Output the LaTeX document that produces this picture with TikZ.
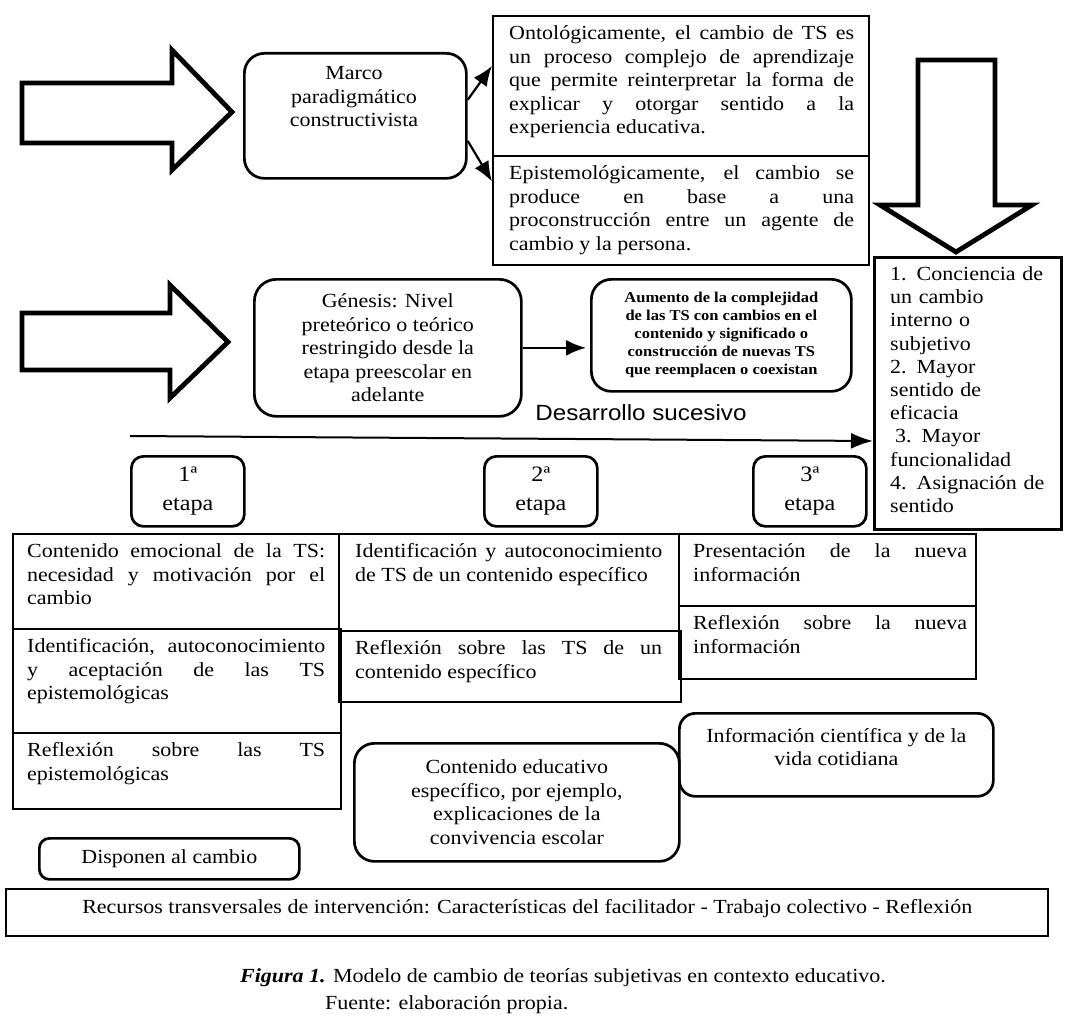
\documentclass[tikz,border=0pt]{standalone}
\usepackage{fontspec}
\setmainfont{Liberation Serif}[FakeStretch=1.1]
\newfontfamily\dsfont{Liberation Sans}[FakeStretch=1.1]
\usetikzlibrary{arrows.meta,calc}
\tikzset{
  rect/.style={draw, line width=1.9pt, inner sep=0pt, anchor=north west},
  rbox/.style={draw, line width=2.7pt, rounded corners=16pt, inner sep=0pt, anchor=north west},
  jtxt/.style={inner sep=0pt, anchor=north west, align=justify, font=\fontsize{20pt}{23.5pt}\selectfont},
  ltxt/.style={inner sep=0pt, anchor=north west, align=left, font=\fontsize{20pt}{23.2pt}\selectfont},
  ctxt/.style={inner sep=0pt, align=center, font=\fontsize{20pt}{23.5pt}\selectfont},
  hollow/.style={draw, line width=4.8pt, line join=miter, miter limit=10},
  con/.style={line width=2.2pt, -{Latex[length=20pt,width=16pt]}},
}
\begin{document}
\begin{tikzpicture}[x=1pt,y=-1pt]
\fill[white] (0,0) rectangle (1072,1025);
\useasboundingbox (0,0) rectangle (1072,1025);

% big hollow arrows
\draw[hollow] (22,83) -- (172,83) -- (172,50) -- (232,112) -- (172,170) -- (172,143) -- (22,143) -- cycle;
\draw[hollow] (22,313) -- (170,313) -- (170,285) -- (228,342) -- (170,398) -- (170,370) -- (22,370) -- cycle;
\draw[hollow] (918,60) -- (995,60) -- (995,205) -- (1032,205) -- (956,252) -- (880,205) -- (918,205) -- cycle;

% top part
\node[rbox, minimum width=222pt, minimum height=125pt, rounded corners=20pt] (marco) at (243,52) {};
\node[ctxt] (marcot) at (354,97) {Marco\\paradigmático\\constructivista};

\node[rect, minimum width=376pt, minimum height=140pt] (ont) at (492,15) {};
\node[jtxt, text width=345pt] (ontt) at ($(ont.north west)+(17,8)$) {\strut Ontológicamente, el cambio de TS es\linebreak un proceso complejo de aprendizaje\linebreak que permite reinterpretar la forma de\linebreak explicar y otorgar sentido a la\linebreak experiencia educativa.};

\node[rect, minimum width=376pt, minimum height=109pt] (epi) at (492,155) {};
\node[jtxt, text width=345pt] (epit) at ($(epi.north west)+(17,8)$) {\strut Epistemológicamente, el cambio se\linebreak produce en base a una\linebreak proconstrucción entre un agente de\linebreak cambio y la persona.};

\draw[con] ($(marco.east)+(0,-16)$) -- ($(ont.west)+(0,-20)$);
\draw[con] ($(marco.east)+(0,25)$) -- ($(epi.west)+(0,-29)$);

\node[draw, line width=2.7pt, inner sep=0pt, anchor=north west, minimum width=187pt, minimum height=272pt] (conc) at (873,256) {};
\node[ltxt, text width=165pt] (conct) at ($(conc.north west)+(17,8)$) {\strut 1. Conciencia de\\un cambio\\interno o\\subjetivo\\2. Mayor\\sentido de\\eficacia\\\hspace*{5pt}3. Mayor\\funcionalidad\\4. Asignación de\\sentido};

% middle
\node[rbox, minimum width=267pt, minimum height=137pt, rounded corners=22pt] (gen) at (253,278) {};
\node[ctxt] (gent) at (gen.center) {Génesis: Nivel\\preteórico o teórico\\restringido desde la\\etapa preescolar en\\adelante};

\node[rbox, minimum width=260pt, minimum height=112pt, rounded corners=20pt] (aum) at (590,278) {};
\node[inner sep=0pt, align=center, font=\fontsize{15pt}{18pt}\selectfont\bfseries] (aumt) at (aum.center) {Aumento de la complejidad\\de las TS con cambios en el\\contenido y significado o\\construcción de nuevas TS\\que reemplacen o coexistan};

\draw[con] (gen.east) -- ($(gen.east -| aum.west)+(-4,0)$);

\node[inner sep=0pt, font=\dsfont\fontsize{22pt}{26pt}\selectfont] (des) at (641,413) {Desarrollo sucesivo};
\coordinate (dstart) at (130,436);
\coordinate (dend) at (0,441);
\draw[line width=2pt, -{Latex[length=22pt,width=16pt]}] (dstart) -- (conc.west |- dend);

% etapas
\node[rbox, minimum width=113pt, minimum height=70pt, rounded corners=12pt] (e1) at (130,455) {};
\node[ctxt, font=\fontsize{22pt}{29pt}\selectfont] (e1t) at (e1.center) {1ª\\etapa};
\node[rbox, minimum width=113pt, minimum height=70pt, rounded corners=12pt] (e2) at (483,455) {};
\node[ctxt, font=\fontsize{22pt}{29pt}\selectfont] (e2t) at (e2.center) {2ª\\etapa};
\node[rbox, minimum width=113pt, minimum height=70pt, rounded corners=12pt] (e3) at (752,455) {};
\node[ctxt, font=\fontsize{22pt}{29pt}\selectfont] (e3t) at (e3.center) {3ª\\etapa};

% stage 1 column
\node[rect, minimum width=326pt, minimum height=95pt] (s1a) at (12,533) {};
\node[jtxt, text width=298pt] (s1at) at ($(s1a.north west)+(15,8)$) {\strut Contenido emocional de la TS:\linebreak necesidad y motivación por el\linebreak cambio};
\node[rect, minimum width=328pt, minimum height=104pt] (s1b) at (12,628) {};
\node[jtxt, text width=298pt] (s1bt) at ($(s1b.north west)+(15,8)$) {\strut Identificación, autoconocimiento\linebreak y aceptación de las TS\linebreak epistemológicas};
\node[rect, minimum width=328pt, minimum height=76pt] (s1c) at (12,732) {};
\node[jtxt, text width=298pt] (s1ct) at ($(s1c.north west)+(15,8)$) {\strut Reflexión sobre las TS\linebreak epistemológicas};

% stage 2 column
\node[rect, minimum width=340pt, minimum height=97pt] (s2a) at (338,533) {};
\node[jtxt, text width=307pt] (s2at) at ($(s2a.north west)+(17,8)$) {\strut Identificación y autoconocimiento\linebreak de TS de un contenido específico};
\node[rect, minimum width=342pt, minimum height=71pt] (s2b) at (338,630) {};
\node[jtxt, text width=307pt] (s2bt) at ($(s2b.north west)+(17,8)$) {\strut Reflexión sobre las TS de un\linebreak contenido específico};

% stage 3 column
\node[rect, minimum width=297pt, minimum height=72pt] (s3a) at (678,533) {};
\node[jtxt, text width=274pt] (s3at) at ($(s3a.north west)+(15,8)$) {\strut Presentación de la nueva\linebreak información};
\node[rect, minimum width=297pt, minimum height=73pt] (s3b) at (678,605) {};
\node[jtxt, text width=274pt] (s3bt) at ($(s3b.north west)+(15,8)$) {\strut Reflexión sobre la nueva\linebreak información};

% lower rounded boxes
\node[rbox, minimum width=314pt, minimum height=83pt] (info) at (678,712) {};
\node[ctxt] (infot) at ($(info.center)+(0,-8)$) {Información científica y de la\\vida cotidiana};
\node[rbox, minimum width=325pt, minimum height=118pt, rounded corners=20pt] (cedu) at (353,742) {};
\node[ctxt] (cedut) at (cedu.center) {Contenido educativo\\específico, por ejemplo,\\explicaciones de la\\convivencia escolar};
\node[rbox, minimum width=260pt, minimum height=41pt, rounded corners=10pt] (disp) at (38,837) {};
\node[ctxt] (dispt) at (disp.center) {Disponen al cambio};

\node[draw, line width=2.4pt, inner sep=0pt, anchor=north west, minimum width=1042pt, minimum height=47pt] (rec) at (5,888) {};
\node[ctxt] (rect) at ($(rec.center)+(0,-4)$) {Recursos transversales de intervención: Características del facilitador - Trabajo colectivo - Reflexión};

% caption
\node[ctxt] (cap1) at (563,978) {\textbf{\textit{Figura 1.}} Modelo de cambio de teorías subjetivas en contexto educativo.};
\node[inner sep=0pt, anchor=west, font=\fontsize{20pt}{23.5pt}\selectfont] (cap2) at (325,1005) {Fuente: elaboración propia.};
\end{tikzpicture}
\end{document}
